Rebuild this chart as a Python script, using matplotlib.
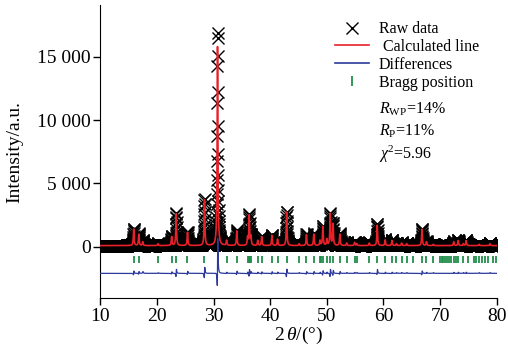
import numpy as np
import matplotlib
matplotlib.use("Agg")
import matplotlib.pyplot as plt
from matplotlib.lines import Line2D

plt.rcParams["font.family"] = ["Liberation Serif", "DejaVu Serif"]
plt.rcParams["mathtext.fontset"] = "custom"
plt.rcParams["mathtext.rm"] = "Liberation Serif"
plt.rcParams["mathtext.it"] = "Liberation Serif:italic"

# refined reflections: position (2theta), calculated height, observed height
peak_pos = [15.9, 16.8, 17.5, 20.2, 22.6, 23.4, 25.4, 28.4, 30.7, 32.3,
            34.1, 36.0, 36.3, 36.6, 37.8, 38.5, 40.3, 41.3, 42.9, 45.1,
            46.4, 47.7, 48.8, 49.3, 50.0, 50.6, 51.1, 52.3, 53.5, 54.9,
            55.3, 57.5, 58.9, 60.3, 61.5, 62.3, 63.2, 64.1, 66.8, 67.6,
            68.8, 72.4, 73.2, 74.1, 74.6, 76.9, 78.8]
calc_height = [1300, 900, 300, 150, 700, 2500, 1050, 3600, 15700, 400,
               1150, 600, 2350, 700, 400, 700, 800, 500, 2650, 150,
               850, 900, 400, 1500, 500, 2500, 1700, 900, 200, 250,
               150, 200, 1600, 450, 400, 150, 200, 150, 1300, 300,
               100, 300, 400, 150, 400, 100, 150]
raw_height = [1350, 950, 420, 180, 750, 2550, 1100, 3700, 16900, 450,
              1200, 650, 2400, 750, 450, 750, 850, 550, 2700, 200,
              900, 950, 450, 1550, 550, 2550, 1750, 950, 250, 300,
              200, 250, 1750, 500, 450, 200, 250, 200, 1350, 350,
              150, 350, 450, 200, 450, 150, 200]
fwhm = 0.15
zero_shift = 0.013
background = 90
step = 0.02

bragg_pos = [15.9, 16.8, 20.2, 22.6, 23.4, 25.4, 28.4, 30.7, 32.3, 34.1,
             36.0, 36.2, 36.4, 36.6, 37.8, 38.5, 40.3, 41.3, 42.9, 45.1,
             46.4, 47.7, 48.8, 49.0, 49.3, 50.0, 50.6, 51.1, 52.3, 53.5,
             54.9, 55.3, 57.5, 58.9, 60.3, 61.5, 62.3, 63.2, 64.1, 65.2,
             66.8, 67.6, 68.8, 70.0, 70.3, 70.6, 70.9, 71.2, 71.6, 72.0,
             72.4, 72.8, 73.2, 74.1, 75.0, 75.9, 76.4, 76.9, 77.4, 77.9,
             78.4, 79.4, 79.9]

diff_offset = -2100
bragg_low, bragg_high = -1250, -700


def profile(x, pos, heights, shift=0.0):
    hw = fwhm / 2
    y = np.full_like(x, background, dtype=float)
    for p, h in zip(pos, heights):
        y += h / (1 + ((x - p - shift) / hw) ** 2)
    return y


two_theta = np.arange(10, 80 + step / 2, step)
y_calc = profile(two_theta, peak_pos, calc_height)
y_obs = profile(two_theta, peak_pos, raw_height, zero_shift)
y_diff = y_obs - y_calc + diff_offset

fig = plt.figure(figsize=(5.08, 3.5), dpi=100)
ax = fig.add_axes([0.1974, 0.1477, 0.7804, 0.838])

ax.plot(two_theta, y_obs, linestyle="none", marker="x", markersize=8,
        markeredgewidth=1.0, color="black", zorder=2)
ax.plot(two_theta, y_calc, color="#e8202a", linewidth=1.2, zorder=3)
ax.plot(two_theta, y_diff, color="#2b3a9c", linewidth=0.9, zorder=3)
ax.vlines(bragg_pos, bragg_low, bragg_high, color="#1f8f4a", linewidth=1.3)

ax.set_xlim(10, 80)
ax.set_ylim(-4070, 19080)
ax.set_xticks(range(10, 81, 10))
yt = [0, 5000, 10000, 15000]
ax.set_yticks(yt)
ax.set_yticklabels([f"{v:,}".replace(",", " ") for v in yt])
ax.tick_params(direction="out", length=5, width=1, labelsize=14, pad=2)
for side in ("top", "right"):
    ax.spines[side].set_visible(False)

ax.set_xlabel(r"2$\,\theta$/(°)", fontsize=14, labelpad=0)
ax.set_ylabel("Intensity/a.u.", fontsize=14, labelpad=10)

handles = [
    Line2D([], [], linestyle="none", marker="x", markersize=8, color="black"),
    Line2D([], [], color="#e8202a", linewidth=1.2),
    Line2D([], [], color="#2b3a9c", linewidth=1.2),
    Line2D([], [], linestyle="none", marker="|", markersize=7,
           markeredgewidth=1.3, color="#1f8f4a"),
]
labels = ["Raw data", " Calculated line", "Differences", "Bragg position"]
ax.legend(handles, labels, loc="upper left", bbox_to_anchor=(0.565, 0.983),
          frameon=False, fontsize=11.5, labelspacing=0.12,
          handlelength=2.1, handletextpad=0.6, borderpad=0.2)

stats = [r"$R_{\rm WP}$=14%", r"$R_{\rm P}$=11%", r"$\chi^2$=5.96"]
for i, s in enumerate(stats):
    fig.text(379 / 508, 1 - (109 + 22.5 * i) / 350, s, fontsize=11.5,
             va="center", ha="left")

fig.savefig("out.png", dpi=100)
